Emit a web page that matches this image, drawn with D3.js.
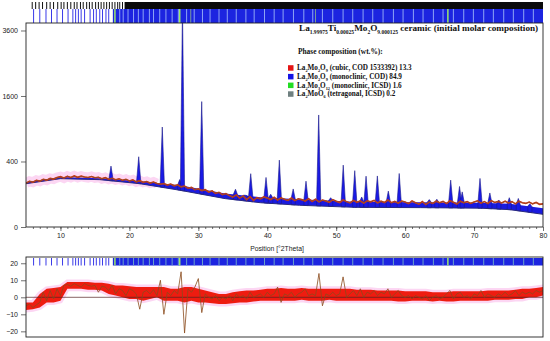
<!DOCTYPE html>
<html>
<head>
<meta charset="utf-8">
<script src="https://cdn.jsdelivr.net/npm/d3@7"></script>
<style>
  body { margin: 0; background: #fff; }
  svg { display: block; }
</style>
</head>
<body>
<div id="chart"></div>
<script>
// ---- data ----
// background and top of the calculated "floor" band (counts) at these 2theta
const bgTheta = [5, 10, 15.7, 21.5, 27.3, 33.9, 39, 44.7, 52.7, 62.2, 70.9, 75.2, 80];
const bgCounts = [175, 218, 209, 175, 126, 75, 55, 44, 36, 35, 33, 28, 15];
const floorCounts = [187, 232, 222, 196, 163, 105, 83, 72, 60, 57, 55, 50, 33];

// calculated reflections (position, peak counts)
const peakTheta = [17.33, 21.35, 24.77, 27.30, 27.70, 30.49, 35.39, 36.8, 37.60, 39.82, 40.50, 41.75,
  43.76, 45.62, 47.46, 49.2, 51.02, 52.69, 53.7, 54.33, 55.97, 57.56, 59.14, 63.5, 64.6,
  66.61, 67.89, 68.28, 70.86, 72.29, 73.6, 75.11, 76.42, 78.1];
const peakCounts = [346, 460, 932, 210, 4500, 1466, 133, 94, 265, 229, 100, 417,
  135, 196, 1170, 80, 357, 296, 84, 241, 243, 120, 267, 70, 72,
  205, 153, 115, 220, 108, 68, 80, 76, 50];

// observed counts every 0.5 deg from 5 to 80
const obsCounts = [
  180, 195, 188, 203, 196, 212, 205, 220, 214, 228,
  236, 224, 240, 229, 243, 230, 241, 233, 228, 238,
  226, 231, 218, 227, 213, 221, 208, 216, 204, 212,
  198, 207, 190, 200, 186, 193, 180, 188, 176, 170,
  176, 164, 172, 158, 166, 150, 156, 140, 146, 130,
  136, 124, 130, 114, 122, 106, 112, 98, 104, 92,
  84, 96, 78, 90, 70, 86, 66, 80, 74, 84,
  78, 70, 82, 68, 79, 72, 66, 78, 65, 74,
  70, 63, 75, 61, 72, 59, 68, 63, 57, 70,
  62, 56, 68, 60, 54, 66, 57, 63, 53, 64,
  59, 66, 54, 62, 56, 68, 55, 61, 53, 63,
  58, 51, 63, 55, 49, 60, 47, 58, 52, 62,
  55, 61, 51, 64, 57, 49, 62, 55, 60, 52,
  58, 64, 53, 60, 51, 65, 56, 61, 54, 62,
  54, 60, 50, 62, 55, 52, 58, 50, 56, 48,
  50];
const obsTheta = obsCounts.map((d, i) => 5 + i * 0.5);

// difference plot: red band envelope every 1 deg
const diffLo = [-7.5, -7, -6, -3, -3, -2, 5, 5, 5, 4.5, 4.5, 4, 2, 1, 0, -1, -1, -2, -1, 0,
  -2, -2, -2, -3, -2, -3, -3, -3.5, -4, -4, -3.5, -3, -3, -2.5, -2, -2, -2, -2, -2, -2,
  -1.5, -2, -2, -2, -1.5, -2, -2, -2, -2, -2, -2, -2, -2, -2, -2.5, -2.5, -2, -2, -2, -2.5,
  -2, -2.5, -2.5, -2, -2, -2, -2, -2, -1.5, -1.5, -1.5, -1, -1, 0, 0, 1];
const diffHi = [-3, -3, 2, 5, 5.5, 6, 9, 9, 9, 9, 8.5, 8.5, 8, 7, 7, 6.5, 6, 6, 6, 6,
  6, 5, 5, 6, 6, 5, 4, 3, 2, 2, 3, 3.5, 4, 4, 4.5, 5, 5, 5.5, 5, 5,
  5.5, 5, 5, 5, 5, 5, 5, 5, 4.5, 4.5, 4.5, 4, 4, 4, 4, 3.5, 3.5, 3.5, 3.5, 3,
  3, 3, 3.5, 3.5, 3.5, 3.5, 3.5, 4, 4, 4, 4, 4.5, 5, 5, 5.5, 6];
const diffBandTheta = diffLo.map((d, i) => 5 + i);
// difference line every 0.5 deg
const diffLine = [
  -5, -4, -6, -4.5, -3, 3, -2, 4, -1, 5,
  1, 7, 7.5, 6.5, 8, 7, 6, 8, 7, 6.5,
  7, 3, 6.5, 6, 4, 7, 2, 5, 4, 1,
  5, 4, 2, -7, 3, 4, 2, 4.5, 1, 10,
  -10, 3, 1, 4, 2, 15, -21, 5, 3, 6,
  11, -9, 2, 0, -1, 1, -2, 0, -1, 1,
  -2, 2, 0, 1, -1, 3, 0, 1, 2, 0,
  3, 1, 2, 6, -3, 2, 1, 3, 0, 2,
  3, 5, 1, 2, 1, 14, -5, 2, 1, 3,
  1, 2, 12, 0, 2, 4, 1, 5, 0, 3,
  2, 4, 1, 3, 2, 5, 0, 2, 4, 1,
  0, 1, -1, 1, 0, -1, 1, -2, 0, 1,
  -1, 0, 2, 4, -1, 2, 3, 0, 1, -1,
  2, 1, 4, 0, 2, 1, 0, 2, 1, 3,
  1, 2, 4, 1, 3, 2, 3, 2, 4, 3,
  4];
const diffLineTheta = diffLine.map((d, i) => 5 + i * 0.5);

// reflection markers
const blackTicks = [5.9, 6.4, 6.9, 7.4, 8.0, 8.5, 9.0, 9.6, 10.1, 10.5, 11.0, 11.5, 12.0, 12.4,
  12.9, 13.3, 13.8, 14.2, 14.6, 15.1, 15.5, 15.9, 16.3, 16.7, 17.1, 17.5, 17.9, 18.3, 18.6, 19.0];
const blackSolidFrom = 19.3;
const blueTicks = [6.1, 7.0, 7.9, 8.7, 9.5, 10.3, 11.1, 11.8, 12.2, 12.6, 13.0, 13.5, 14.3,
  14.8, 15.2, 15.7, 16.1, 16.6, 17.0];
const blueSolidFrom = 17.6;
const blueGaps = [18.6, 19.1, 19.8, 20.6, 21.3, 22.0, 22.9, 23.5, 24.4, 25.3, 26.2, 27.1, 28.3,
  29.4, 30.6, 31.7, 33.0, 34.2, 35.5, 36.9, 38.1, 39.6, 41.0, 42.3, 43.8, 45.3, 46.6, 48.0,
  49.5, 51.0, 52.4, 53.9, 55.3, 56.8, 58.3, 59.7, 61.2, 62.6, 64.1, 65.5, 67.0, 68.5, 69.9,
  71.4, 72.8, 74.3, 75.7, 77.2, 78.6];
const greenTicks = [17.9, 27.3, 66.2];
const grayTicks = [28.9, 47.0];

const yTicks = [0, 400, 1600, 3600];
const xTicks = [10, 20, 30, 40, 50, 60, 70, 80];
const diffTicks = [20, 10, 0, -10, -20];

const titleParts = [["La", 0], ["1.99975", 1], ["Ti", 0], ["0.00025", 1], ["Mo", 0], ["2", 1],
  ["O", 0], ["9.000125", 1], [" ceramic (initial molar composition)", 0]];
const legendParts = [
  [["La", 0], ["2", 1], ["Mo", 0], ["2", 1], ["O", 0], ["9", 1], [" (cubic, COD 1533392) 13.3", 0]],
  [["La", 0], ["2", 1], ["Mo", 0], ["2", 1], ["O", 0], ["9", 1], [" (monoclinic, COD) 84.9", 0]],
  [["La", 0], ["2", 1], ["Mo", 0], ["3", 1], ["O", 0], ["12", 1], [" (monoclinic, ICSD) 1.6", 0]],
  [["La", 0], ["2", 1], ["MoO", 0], ["6", 1], [" (tetragonal, ICSD) 0.2", 0]]
];
const legendColors = ["#e41414", "#1414e6", "#22dd22", "#6f8080"];

// ---- drawing ----
const W = 550, H = 341;
const L = 26, R = 543;
const svg = d3.select("#chart").append("svg").attr("width", W).attr("height", H);

const x = d3.scaleLinear().domain([5, 80]).range([L, R]);
const y = d3.scaleSqrt().domain([0, 3880]).range([227, 23]);
const yd = d3.scaleLinear().domain([-23.5, 23.5]).range([337.3, 257.3]);
const bgAt = d3.scaleLinear().domain(bgTheta).range(bgCounts);
const floorAt = d3.scaleLinear().domain(bgTheta).range(floorCounts);

svg.append("clipPath").attr("id", "topClip")
  .append("rect").attr("x", L).attr("y", 23).attr("width", R - L).attr("height", 204);
svg.append("clipPath").attr("id", "botClip")
  .append("rect").attr("x", L).attr("y", 257).attr("width", R - L).attr("height", 80);

// marker bands on top
const mk = svg.append("g");
mk.selectAll("line.black").data(blackTicks).enter().append("line")
  .attr("x1", d => x(d)).attr("x2", d => x(d)).attr("y1", 2).attr("y2", 9)
  .attr("stroke", "#111").attr("stroke-width", 1);
mk.append("rect").attr("x", x(blackSolidFrom)).attr("y", 2)
  .attr("width", x(80) - x(blackSolidFrom)).attr("height", 7).attr("fill", "#0a0a0a");
mk.selectAll("line.blue").data(blueTicks).enter().append("line")
  .attr("x1", d => x(d)).attr("x2", d => x(d)).attr("y1", 9).attr("y2", 23)
  .attr("stroke", "#3a3ae8").attr("stroke-width", 1);
mk.append("rect").attr("x", x(blueSolidFrom)).attr("y", 9)
  .attr("width", x(80) - x(blueSolidFrom)).attr("height", 14).attr("fill", "#1c24e0");
mk.selectAll("line.gap").data(blueGaps).enter().append("line")
  .attr("x1", d => x(d)).attr("x2", d => x(d)).attr("y1", 9).attr("y2", 23)
  .attr("stroke", "#8ea4f4").attr("stroke-width", 1);
mk.selectAll("line.green").data(greenTicks).enter().append("line")
  .attr("x1", d => x(d)).attr("x2", d => x(d)).attr("y1", 9).attr("y2", 23)
  .attr("stroke", "#9be86a").attr("stroke-width", 1.5);
mk.selectAll("line.gray").data(grayTicks).enter().append("line")
  .attr("x1", d => x(d)).attr("x2", d => x(d)).attr("y1", 9).attr("y2", 23)
  .attr("stroke", "#7a9a9a").attr("stroke-width", 1);

// top panel
const topG = svg.append("g").attr("clip-path", "url(#topClip)");
const obs = d3.zip(obsTheta, obsCounts);
const line = d3.line().x(d => x(d[0])).y(d => y(d[1]));

// pink halo along low-angle data
topG.append("path").datum(obs.filter(d => d[0] <= 24))
  .attr("d", line).attr("fill", "none").attr("stroke", "#fcd6f3").attr("stroke-width", 10);

// calculated floor band
topG.append("path").datum(bgTheta)
  .attr("d", d3.area().x(d => x(d)).y0(d => y(bgAt(d))).y1(d => y(floorAt(d))))
  .attr("fill", "#1a1ae0");

// peaks
const hw = 0.3;
topG.selectAll("path.peak").data(d3.zip(peakTheta, peakCounts)).enter().append("path")
  .attr("class", "peak")
  .attr("d", d => line([
    [d[0] - hw, bgAt(d[0] - hw)], [d[0] - hw, floorAt(d[0] - hw)], [d[0], d[1]],
    [d[0] + hw, floorAt(d[0] + hw)], [d[0] + hw, bgAt(d[0] + hw)]]) + "Z")
  .attr("fill", "#1a1ae6").attr("stroke", "#1a1a8c").attr("stroke-width", 0.6);

// background line
topG.append("path").datum(d3.zip(bgTheta, bgCounts))
  .attr("d", line).attr("fill", "none").attr("stroke", "#2a2a80").attr("stroke-width", 1);

// observed
topG.append("path").datum(obs)
  .attr("d", line).attr("fill", "none").attr("stroke", "#e22a10").attr("stroke-width", 1.6);
topG.append("path").datum(obs)
  .attr("d", line).attr("fill", "none").attr("stroke", "#7d5a2a").attr("stroke-width", 0.8);

// frame of top panel
svg.append("rect").attr("x", L).attr("y", 23).attr("width", R - L).attr("height", 204)
  .attr("fill", "none").attr("stroke", "#222").attr("stroke-width", 0.9);

// axes
const fontAxis = "'Liberation Sans', Arial, sans-serif";
svg.append("g").attr("transform", `translate(${L},0)`)
  .call(d3.axisLeft(y).tickValues(yTicks).tickFormat(d3.format("d"))
    .tickSize(5).tickSizeOuter(0).tickPadding(3));
svg.append("g").attr("transform", "translate(0,227)")
  .call(d3.axisBottom(x).tickValues(xTicks).tickSize(4).tickSizeOuter(0).tickPadding(2));
svg.append("g").attr("transform", "translate(0,227)")
  .call(d3.axisBottom(x).tickValues(d3.range(6, 80)).tickSize(2).tickSizeOuter(0).tickFormat(""));
svg.selectAll(".domain").remove();
svg.selectAll(".tick line").attr("stroke", "#333").attr("stroke-width", 0.7);
svg.selectAll(".tick text").attr("font-family", fontAxis).attr("font-size", 7).attr("fill", "#222");

svg.append("text").attr("x", 277).attr("y", 251).attr("text-anchor", "middle")
  .attr("font-family", fontAxis).attr("font-size", 6.8).attr("fill", "#222")
  .text("Position [°2Theta]");

// rich text helper (subscripts)
function richText(g, parts, px, py, size) {
  const t = g.append("text").attr("x", px).attr("y", py)
    .attr("font-family", "'Liberation Serif', 'Times New Roman', serif")
    .attr("font-weight", "bold").attr("font-size", size).attr("fill", "#111");
  let low = false;
  parts.forEach(p => {
    const s = t.append("tspan").text(p[0]);
    if (p[1] && !low) { s.attr("dy", size * 0.28).attr("font-size", size * 0.6); low = true; }
    else if (p[1]) { s.attr("font-size", size * 0.6); }
    else if (low) { s.attr("dy", -size * 0.28); low = false; }
  });
  return t;
}

const lg = svg.append("g");
richText(lg, titleParts, 299, 31, 9.2);
lg.append("text").attr("x", 298).attr("y", 54)
  .attr("font-family", "'Liberation Serif', 'Times New Roman', serif")
  .attr("font-weight", "bold").attr("font-size", 7.4).attr("fill", "#111")
  .text("Phase composition (wt.%):");
legendParts.forEach((parts, i) => {
  const yy = 68 + i * 8.7;
  lg.append("rect").attr("x", 288).attr("y", yy - 2.8).attr("width", 5.5).attr("height", 5.5)
    .attr("fill", legendColors[i]);
  richText(lg, parts, 297, yy + 2.3, 7.2);
});

// bottom panel
const bot = svg.append("g");
bot.append("g").attr("clip-path", "url(#botClip)").call(g => {
  g.selectAll("line.bb").data(blueTicks).enter().append("line")
    .attr("x1", d => x(d)).attr("x2", d => x(d)).attr("y1", 258).attr("y2", 265.5)
    .attr("stroke", "#3a3ae8").attr("stroke-width", 1);
  g.append("rect").attr("x", x(blueSolidFrom)).attr("y", 258)
    .attr("width", x(80) - x(blueSolidFrom)).attr("height", 7.5).attr("fill", "#1c24e0");
  g.selectAll("line.bg").data(blueGaps).enter().append("line")
    .attr("x1", d => x(d)).attr("x2", d => x(d)).attr("y1", 258).attr("y2", 265.5)
    .attr("stroke", "#6aa0c8").attr("stroke-width", 1);
  g.selectAll("line.bgr").data(greenTicks).enter().append("line")
    .attr("x1", d => x(d)).attr("x2", d => x(d)).attr("y1", 258).attr("y2", 265.5)
    .attr("stroke", "#9be86a").attr("stroke-width", 1.5);

  const band = d3.area().x(d => x(d[0])).y0(d => yd(d[1])).y1(d => yd(d[2]));
  const bandData = d3.zip(diffBandTheta, diffLo, diffHi);
  g.append("path").datum(bandData).attr("d", band)
    .attr("fill", "#fcd6f3").attr("stroke", "#fcd6f3").attr("stroke-width", 5);
  g.append("path").datum(bandData).attr("d", band).attr("fill", "#ee1c10");
  g.append("line").attr("x1", L).attr("x2", R).attr("y1", yd(0)).attr("y2", yd(0))
    .attr("stroke", "#552222").attr("stroke-width", 0.7);
  g.append("path").datum(d3.zip(diffLineTheta, diffLine))
    .attr("d", d3.line().x(d => x(d[0])).y(d => yd(d[1])))
    .attr("fill", "none").attr("stroke", "#8a4a1c").attr("stroke-width", 0.8);
});
bot.append("rect").attr("x", L).attr("y", 257).attr("width", R - L).attr("height", 80)
  .attr("fill", "none").attr("stroke", "#222").attr("stroke-width", 0.9);
const dAxis = svg.append("g").attr("transform", `translate(${L},0)`)
  .call(d3.axisLeft(yd).tickValues(diffTicks).tickSize(5).tickPadding(3));
dAxis.select(".domain").remove();
dAxis.selectAll(".tick line").attr("stroke", "#333").attr("stroke-width", 0.7);
dAxis.selectAll(".tick text").attr("font-family", fontAxis).attr("font-size", 7).attr("fill", "#222");
</script>
</body>
</html>
